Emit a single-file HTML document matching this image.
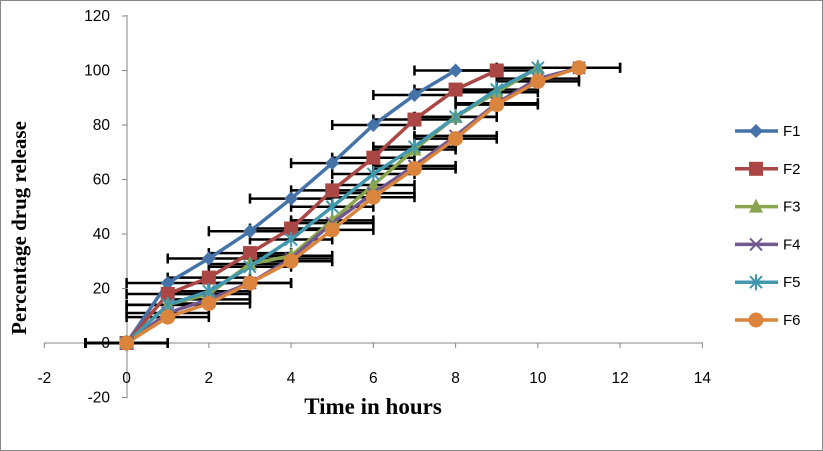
<!DOCTYPE html>
<html><head><meta charset="utf-8"><style>
html,body{margin:0;padding:0;background:#fff}
svg{display:block}
text{font-family:"Liberation Sans",sans-serif}
</style></head><body>
<svg id="s" width="823" height="451" xmlns="http://www.w3.org/2000/svg">
<rect x="0.5" y="0.5" width="822" height="450" fill="#fff" stroke="#888"/>
<g id="grid"></g>
<g id="err" stroke="#000" stroke-width="2.5"></g>
<g id="lines" fill="none" stroke-width="3.5" stroke-linejoin="round"></g>
<g id="marks"></g>
<text x="0" y="0" transform="translate(26,228) rotate(-90)" text-anchor="middle" font-weight="bold" font-size="21" style="font-family:'Liberation Serif',serif">Percentage drug release</text>
<text x="373" y="414" text-anchor="middle" font-weight="bold" font-size="23" style="font-family:'Liberation Serif',serif">Time in hours</text>
<g id="leg" font-size="15"></g>
</svg>
<script>
var ns="http://www.w3.org/2000/svg";
function X(x){return 126.6+41.125*x}
function Y(v){return 343-2.725*v}
function el(p,t,a,txt){var e=document.createElementNS(ns,t);for(var k in a)e.setAttribute(k,a[k]);if(txt!=null)e.textContent=txt;document.getElementById(p).appendChild(e);return e}
el("grid","line",{x1:44,y1:343,x2:703,y2:343,stroke:"#868686","stroke-width":1});
el("grid","line",{x1:127,y1:15,x2:127,y2:398,stroke:"#868686","stroke-width":1});
for(var i=-2;i<=14;i+=2){var x=X(i);el("grid","line",{x1:x,y1:343,x2:x,y2:348,stroke:"#868686"});el("grid","text",{x:x,y:383,"text-anchor":"middle","font-size":15.5},String(i));}
for(var v=-20;v<=120;v+=20){var y=Y(v);el("grid","line",{x1:122,y1:y,x2:127,y2:y,stroke:"#868686"});el("grid","text",{x:110,y:y+5,"text-anchor":"end","font-size":15.5},String(v));}
var S=[
["F1","#4572A7","d",[0,22,31,41,53,66,80,91,100]],
["F2","#AA4643","s",[0,18,24,33,42,56,68,82,93,100]],
["F3","#89A54E","t",[0,14,18,29,32,45,58,71,83,92,101]],
["F4","#71588F","x",[0,11,16,22,31,44,55,65,76,88,97,101]],
["F5","#4198AF","a",[0,14,19,28,38,50,62,72,83,93,101]],
["F6","#DB843D","c",[0,9.5,14.5,22,30,41.5,53.5,64,75,87.5,96,101]]];
function mark(g,t,c,x,y){
 if(t=="d")el(g,"polygon",{points:(x)+","+(y-7)+" "+(x+7)+","+y+" "+x+","+(y+7)+" "+(x-7)+","+y,fill:c});
 else if(t=="s")el(g,"rect",{x:x-7,y:y-7,width:14,height:14,fill:c});
 else if(t=="t")el(g,"polygon",{points:x+","+(y-8)+" "+(x+7)+","+(y+6)+" "+(x-7)+","+(y+6),fill:c});
 else if(t=="x"){el(g,"path",{d:"M"+(x-6)+" "+(y-6)+"L"+(x+6)+" "+(y+6)+"M"+(x-6)+" "+(y+6)+"L"+(x+6)+" "+(y-6),stroke:c,"stroke-width":2});}
 else if(t=="a"){el(g,"path",{d:"M"+(x-6)+" "+(y-6)+"L"+(x+6)+" "+(y+6)+"M"+(x-6)+" "+(y+6)+"L"+(x+6)+" "+(y-6)+"M"+x+" "+(y-8)+"L"+x+" "+(y+8),stroke:c,"stroke-width":2});}
 else el(g,"circle",{cx:x,cy:y,r:7.5,fill:c});
}
S.forEach(function(s,k){
 var pts=[];
 s[3].forEach(function(v,i){var x=X(i),y=Y(v);pts.push(x+","+y);
  var a=X(i-1),b=X(i+1);
  el("err","line",{x1:a,y1:y,x2:b,y2:y});
  el("err","line",{x1:a,y1:y-5,x2:a,y2:y+5});
  el("err","line",{x1:b,y1:y-5,x2:b,y2:y+5});
 });
 el("lines","polyline",{points:pts.join(" "),stroke:s[1]});
 s[3].forEach(function(v,i){mark("marks",s[2],s[1],X(i),Y(v))});
 var ly=131+37.8*k;
 el("leg","line",{x1:735,y1:ly,x2:778,y2:ly,stroke:s[1],"stroke-width":3.5});
 mark("leg",s[2],s[1],756,ly);
 el("leg","text",{x:783,y:ly+5},s[0]);
});
</script>
</body></html>
